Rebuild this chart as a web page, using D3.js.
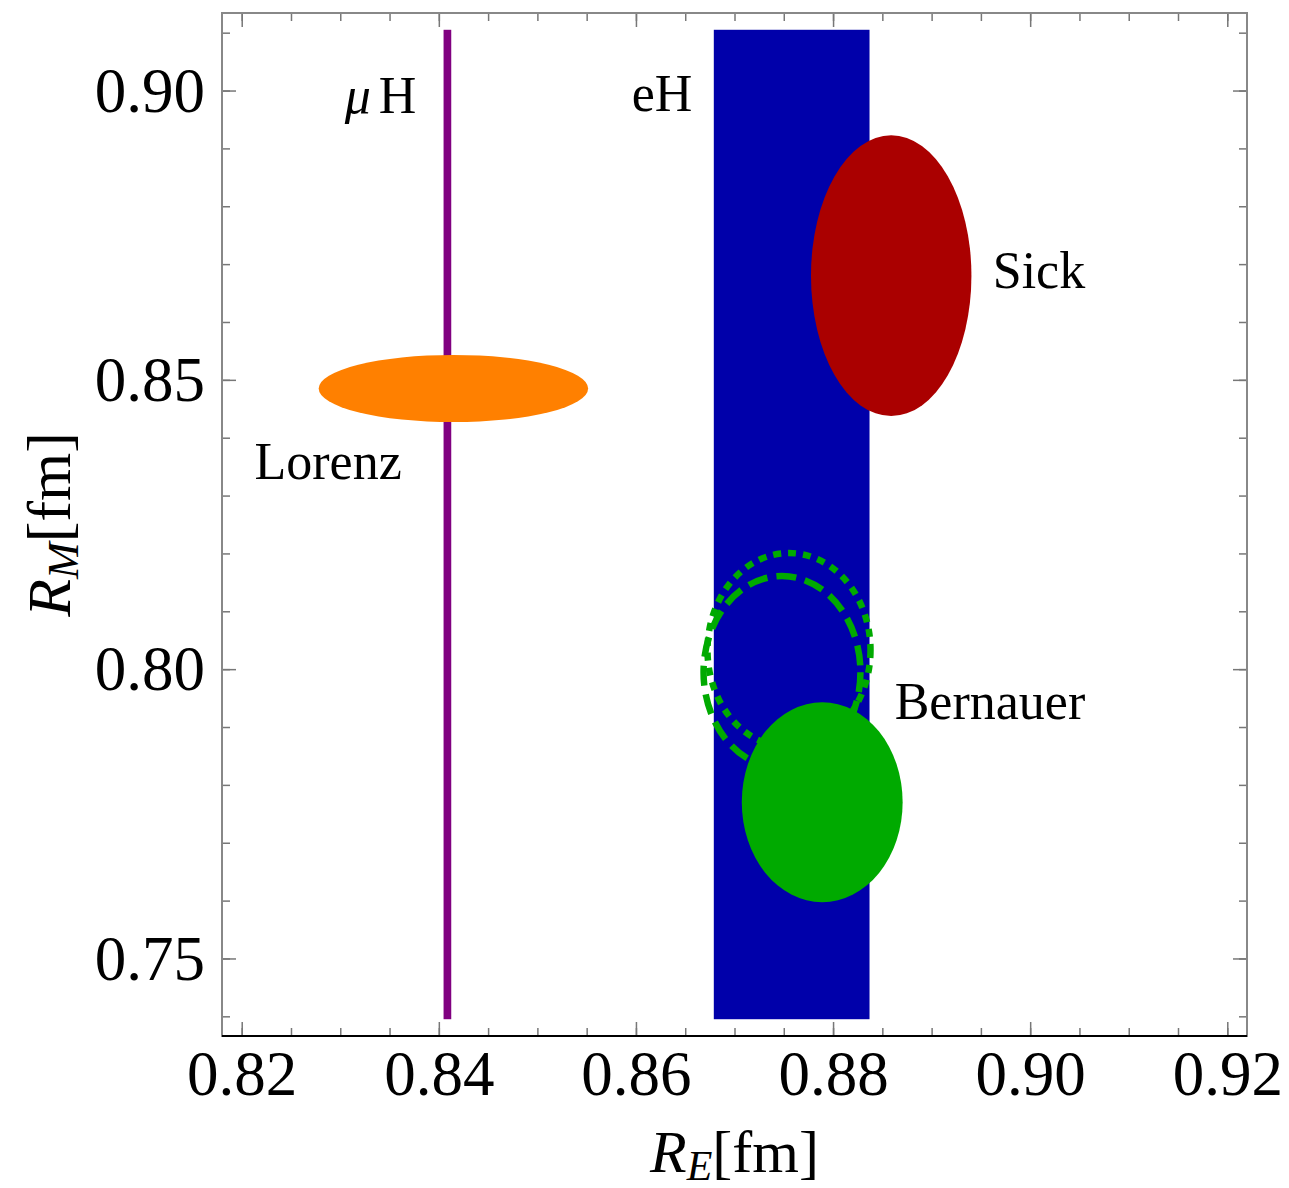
<!DOCTYPE html>
<html>
<head>
<meta charset="utf-8">
<script src="https://cdn.jsdelivr.net/npm/d3@7"></script>
<style>
  body { margin: 0; background: #fff; }
  svg text { font-family: "Liberation Serif", "Times New Roman", serif; fill: #000; }
</style>
</head>
<body>
<div id="chart"></div>
<script>
// axis ranges and tick labels
const xRange = [0.82, 0.92];
const yRange = [0.74, 0.91];
const xTicks = [0.82, 0.84, 0.86, 0.88, 0.90, 0.92];
const yTicks = [0.75, 0.80, 0.85, 0.90];

// vertical bands (muonic and electronic hydrogen)
const bandNames = ["muH", "eH"];
const bandLo = [0.84048, 0.8679];
const bandHi = [0.84126, 0.8837];
const bandColors = ["#800080", "#0000aa"];

// filled ellipses: centre and half-widths
const ellNames = ["Lorenz", "Sick", "Bernauer"];
const ellCX = [0.84148, 0.8859, 0.8789];
const ellCY = [0.8485, 0.8680, 0.7770];
const ellDX = [0.01367, 0.00814, 0.00816];
const ellDY = [0.0058, 0.02426, 0.01727];
const ellColors = ["#ff8000", "#aa0000", "#00aa00"];

// outline ellipses (Bernauer alternatives)
const outCX = [0.87553, 0.87482];
const outCY = [0.80329, 0.79948];
const outDX = [0.00827, 0.00796];
const outDY = [0.01678, 0.01661];
const outDash = ["8,7", "20,9"];

// text labels, positioned in data units (left edge, baseline)
const labelX = [0.83045, 0.85957, 0.8962, 0.8213, 0.88625];
const labelY = [0.8962, 0.8964, 0.8659, 0.8329, 0.79136];

const W = 1289, H = 1188;
const margin = { top: 13, right: 42, bottom: 152, left: 222 };
const width = W - margin.left - margin.right;
const height = H - margin.top - margin.bottom;

const padX = (xRange[1] - xRange[0]) * 0.02;
const padY = (yRange[1] - yRange[0]) * 0.02;

const x = d3.scaleLinear()
    .domain([xRange[0] - padX, xRange[1] + padX])
    .range([0, width]);
const y = d3.scaleLinear()
    .domain([yRange[0] - padY, yRange[1] + padY])
    .range([height, 0]);

const svg = d3.select("#chart").append("svg")
    .attr("width", W)
    .attr("height", H)
  .append("g")
    .attr("transform", `translate(${margin.left},${margin.top})`);

const bandTop = yRange[1] + 0.0005, bandBot = yRange[0] - 0.0005;

// eH band first, then the muH band
[1, 0].forEach(i => {
    svg.append("rect")
        .attr("x", x(bandLo[i]))
        .attr("width", x(bandHi[i]) - x(bandLo[i]))
        .attr("y", y(bandTop))
        .attr("height", y(bandBot) - y(bandTop))
        .attr("fill", bandColors[i]);
});

// dashed outlines
outCX.forEach((cx, i) => {
    svg.append("ellipse")
        .attr("cx", x(cx))
        .attr("cy", y(outCY[i]))
        .attr("rx", x(cx + outDX[i]) - x(cx))
        .attr("ry", y(outCY[i]) - y(outCY[i] + outDY[i]))
        .attr("fill", "none")
        .attr("stroke", "#00aa00")
        .attr("stroke-width", 6.5)
        .attr("stroke-dasharray", outDash[i]);
});

// filled ellipses
ellCX.forEach((cx, i) => {
    svg.append("ellipse")
        .attr("cx", x(cx))
        .attr("cy", y(ellCY[i]))
        .attr("rx", x(cx + ellDX[i]) - x(cx))
        .attr("ry", y(ellCY[i]) - y(ellCY[i] + ellDY[i]))
        .attr("fill", ellColors[i]);
});

// labels
const labelSize = 52;
const lbl = (i) => svg.append("text")
    .attr("x", x(labelX[i]))
    .attr("y", y(labelY[i]))
    .style("font-size", labelSize + "px");

const mu = lbl(0);
mu.append("tspan").style("font-style", "italic").text("μ");
mu.append("tspan").attr("dx", 8).text("H");
lbl(1).text("eH");
lbl(2).text(ellNames[1]);
lbl(3).text(ellNames[0]);
lbl(4).text(ellNames[2]);

// axes with inward ticks on all four sides
const tickColor = "#777";
const fmt = d3.format(".2f");
const xMinor = x.ticks(20);
const yMinor = y.ticks(20);

function styleAxis(g) {
    g.select(".domain").remove();
    g.selectAll(".tick line").attr("stroke", tickColor).attr("stroke-width", 1.5);
}

svg.append("g").attr("transform", `translate(0,${height})`)
    .call(d3.axisBottom(x).tickValues(xMinor).tickSize(-8).tickFormat(""))
    .call(styleAxis);
const xAxis = svg.append("g").attr("transform", `translate(0,${height})`)
    .call(d3.axisBottom(x).tickValues(xTicks).tickSize(-14).tickFormat(fmt))
    .call(styleAxis);
xAxis.selectAll("text")
    .attr("y", 59).attr("dy", null)
    .style("font-size", "63px");

svg.append("g")
    .call(d3.axisTop(x).tickValues(xMinor).tickSize(-8).tickFormat(""))
    .call(styleAxis);
svg.append("g")
    .call(d3.axisTop(x).tickValues(xTicks).tickSize(-14).tickFormat(""))
    .call(styleAxis);

svg.append("g")
    .call(d3.axisLeft(y).tickValues(yMinor).tickSize(-8).tickFormat(""))
    .call(styleAxis);
const yAxis = svg.append("g")
    .call(d3.axisLeft(y).tickValues(yTicks).tickSize(-14).tickFormat(fmt))
    .call(styleAxis);
yAxis.selectAll("text")
    .attr("x", -17).attr("dy", "0.33em")
    .style("font-size", "63px");

svg.append("g").attr("transform", `translate(${width},0)`)
    .call(d3.axisRight(y).tickValues(yMinor).tickSize(-8).tickFormat(""))
    .call(styleAxis);
svg.append("g").attr("transform", `translate(${width},0)`)
    .call(d3.axisRight(y).tickValues(yTicks).tickSize(-14).tickFormat(""))
    .call(styleAxis);

// frame
svg.append("rect")
    .attr("width", width).attr("height", height)
    .attr("fill", "none").attr("stroke", "#888").attr("stroke-width", 2);
svg.append("line")
    .attr("x1", 0).attr("x2", width)
    .attr("y1", height).attr("y2", height)
    .attr("stroke", "#000").attr("stroke-width", 2);

// axis titles
const xt = svg.append("text")
    .attr("x", width / 2)
    .attr("y", height + 136)
    .attr("text-anchor", "middle")
    .style("font-size", "60px");
xt.append("tspan").style("font-style", "italic").text("R");
xt.append("tspan").style("font-style", "italic").style("font-size", "42px").attr("dy", 8).text("E");
xt.append("tspan").attr("dy", -8).text("[fm]");

const yt = svg.append("text")
    .attr("transform", `translate(${-152},${height / 2}) rotate(-90)`)
    .attr("text-anchor", "middle")
    .style("font-size", "62px");
yt.append("tspan").style("font-style", "italic").text("R");
yt.append("tspan").style("font-style", "italic").style("font-size", "44px").attr("dy", 8).text("M");
yt.append("tspan").attr("dy", -8).text("[fm]");
</script>
</body>
</html>
